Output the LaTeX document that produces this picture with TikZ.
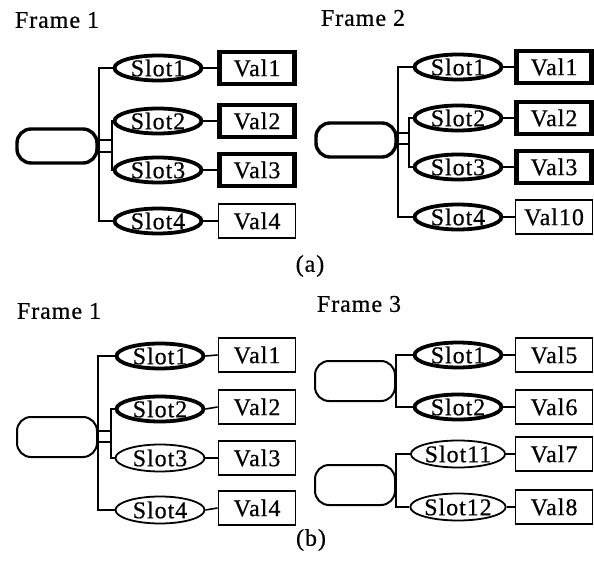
\documentclass[tikz,border=0pt]{standalone}
\usepackage{fontspec}
\setmainfont{Liberation Serif}
\usetikzlibrary{shapes.geometric}

\newcommand{\lbfont}{\fontsize{24}{24}\selectfont\addfontfeature{LetterSpace=4,FakeBold=0.6}}

\begin{document}
\begin{tikzpicture}[x=1pt, y=-1pt,
    frm/.style={draw, line width=2pt, rounded corners=14pt, minimum width=80pt, minimum height=40pt, inner sep=0pt},
    frmb/.style={frm, line width=3.4pt, minimum height=34pt},
    slot/.style={draw, ellipse, line width=1.8pt, minimum width=89pt, minimum height=27pt, inner sep=0pt, font=\lbfont},
    slotb/.style={slot, line width=3.8pt, minimum width=87pt, minimum height=25pt},
    val/.style={draw, line width=1.8pt, minimum width=77pt, minimum height=34pt, inner sep=0pt, font=\lbfont},
    valb/.style={val, line width=4.2pt, minimum width=75pt, minimum height=32pt},
    ttl/.style={font=\lbfont},
    link/.style={line width=1.6pt}]

    \useasboundingbox (0,0) rectangle (594,561);

    % (a) Frame 1
    \node[ttl] (t1) at (57,20) {Frame 1};
    \node[frmb] (f1) at (57,146) {};

    \node[slotb] (a1) at (158,68) {Slot1};
    \node[slotb] (a2) at (158,121) {Slot2};
    \node[slotb] (a3) at (158,170) {Slot3};
    \node[slotb] (a4) at (158,221) {Slot4};

    \node[valb] (v1) at (257,68) {Val1};
    \node[valb] (v2) at (257,121) {Val2};
    \node[valb] (v3) at (257,170) {Val3};
    \node[val]  (v4) at (257,221) {Val4};

    \draw[link] (a1.west) -| (f1.east) |- (a4.west);
    \draw[link] ([yshift=-6pt]f1.east) -- ++(13,0) |- (a2.west);
    \draw[link] ([yshift=6pt]f1.east) -- ++(13,0) |- (a3.west);
    \foreach \i in {1,...,4}
        \draw[link] (a\i.east) -- (v\i.west);

    % (a) Frame 2
    \node[ttl] (t2) at (363,18) {Frame 2};
    \node[frmb] (f2) at (356,140) {};

    \node[slotb] (b1) at (458,67) {Slot1};
    \node[slotb] (b2) at (458,118) {Slot2};
    \node[slotb] (b3) at (458,167) {Slot3};
    \node[slotb] (b4) at (458,217) {Slot4};

    \node[valb] (w1) at (554,67) {Val1};
    \node[valb] (w2) at (554,118) {Val2};
    \node[valb] (w3) at (554,167) {Val3};
    \node[val]  (w4) at (554,217) {Val10};

    \draw[link] (b1.west) -| (f2.east) |- (b4.west);
    \draw[link] ([yshift=-4pt]f2.east) -- ++(11,0) |- (b2.west);
    \draw[link] ([yshift=7pt]f2.east) -- ++(11,0) |- (b3.west);
    \foreach \i in {1,...,4}
        \draw[link] (b\i.east) -- (w\i.west);

    \node[ttl] (la) at (310,266) {(a)};

    % (b) Frame 1
    \node[ttl] (t3) at (59,311) {Frame 1};
    \node[frm] (f3) at (57,437) {};

    \node[slotb] (c1) at (160,356) {Slot1};
    \node[slotb] (c2) at (160,409) {Slot2};
    \node[slot]  (c3) at (160,458) {Slot3};
    \node[slot]  (c4) at (160,510) {Slot4};

    \node[val] (x1) at (257,355) {Val1};
    \node[val] (x2) at (257,407) {Val2};
    \node[val] (x3) at (257,458) {Val3};
    \node[val] (x4) at (257,508) {Val4};

    \draw[link] (c1.west) -| (f3.east) |- (c4.west);
    \draw[link] ([yshift=-5pt]f3.east) -- ++(13,0) |- (c2.west);
    \draw[link] ([yshift=6pt]f3.east) -- ++(13,0) |- (c3.west);
    \foreach \i in {1,...,4}
        \draw[link] (c\i.east) -- (x\i.west);

    % (b) Frame 3
    \node[ttl] (t4) at (359,304) {Frame 3};
    \node[frm] (f4) at (355,381) {};
    \node[frm] (f5) at (355,485) {};

    \node[slotb] (d1) at (458,355) {Slot1};
    \node[slotb] (d2) at (458,407) {Slot2};
    \node[slot]  (d3) at (458,454) {Slot11};
    \node[slot]  (d4) at (458,507) {Slot12};

    \node[val] (y1) at (554,355) {Val5};
    \node[val] (y2) at (554,407) {Val6};
    \node[val] (y3) at (554,454) {Val7};
    \node[val] (y4) at (554,507) {Val8};

    \draw[link] (d1.west) -| (f4.east) |- (d2.west);
    \draw[link] (d3.west) -| (f5.east) |- (d4.west);
    \foreach \i in {1,...,4}
        \draw[link] (d\i.east) -- (y\i.west);

    \node[ttl] (lb) at (311,540) {(b)};

\end{tikzpicture}
\end{document}
